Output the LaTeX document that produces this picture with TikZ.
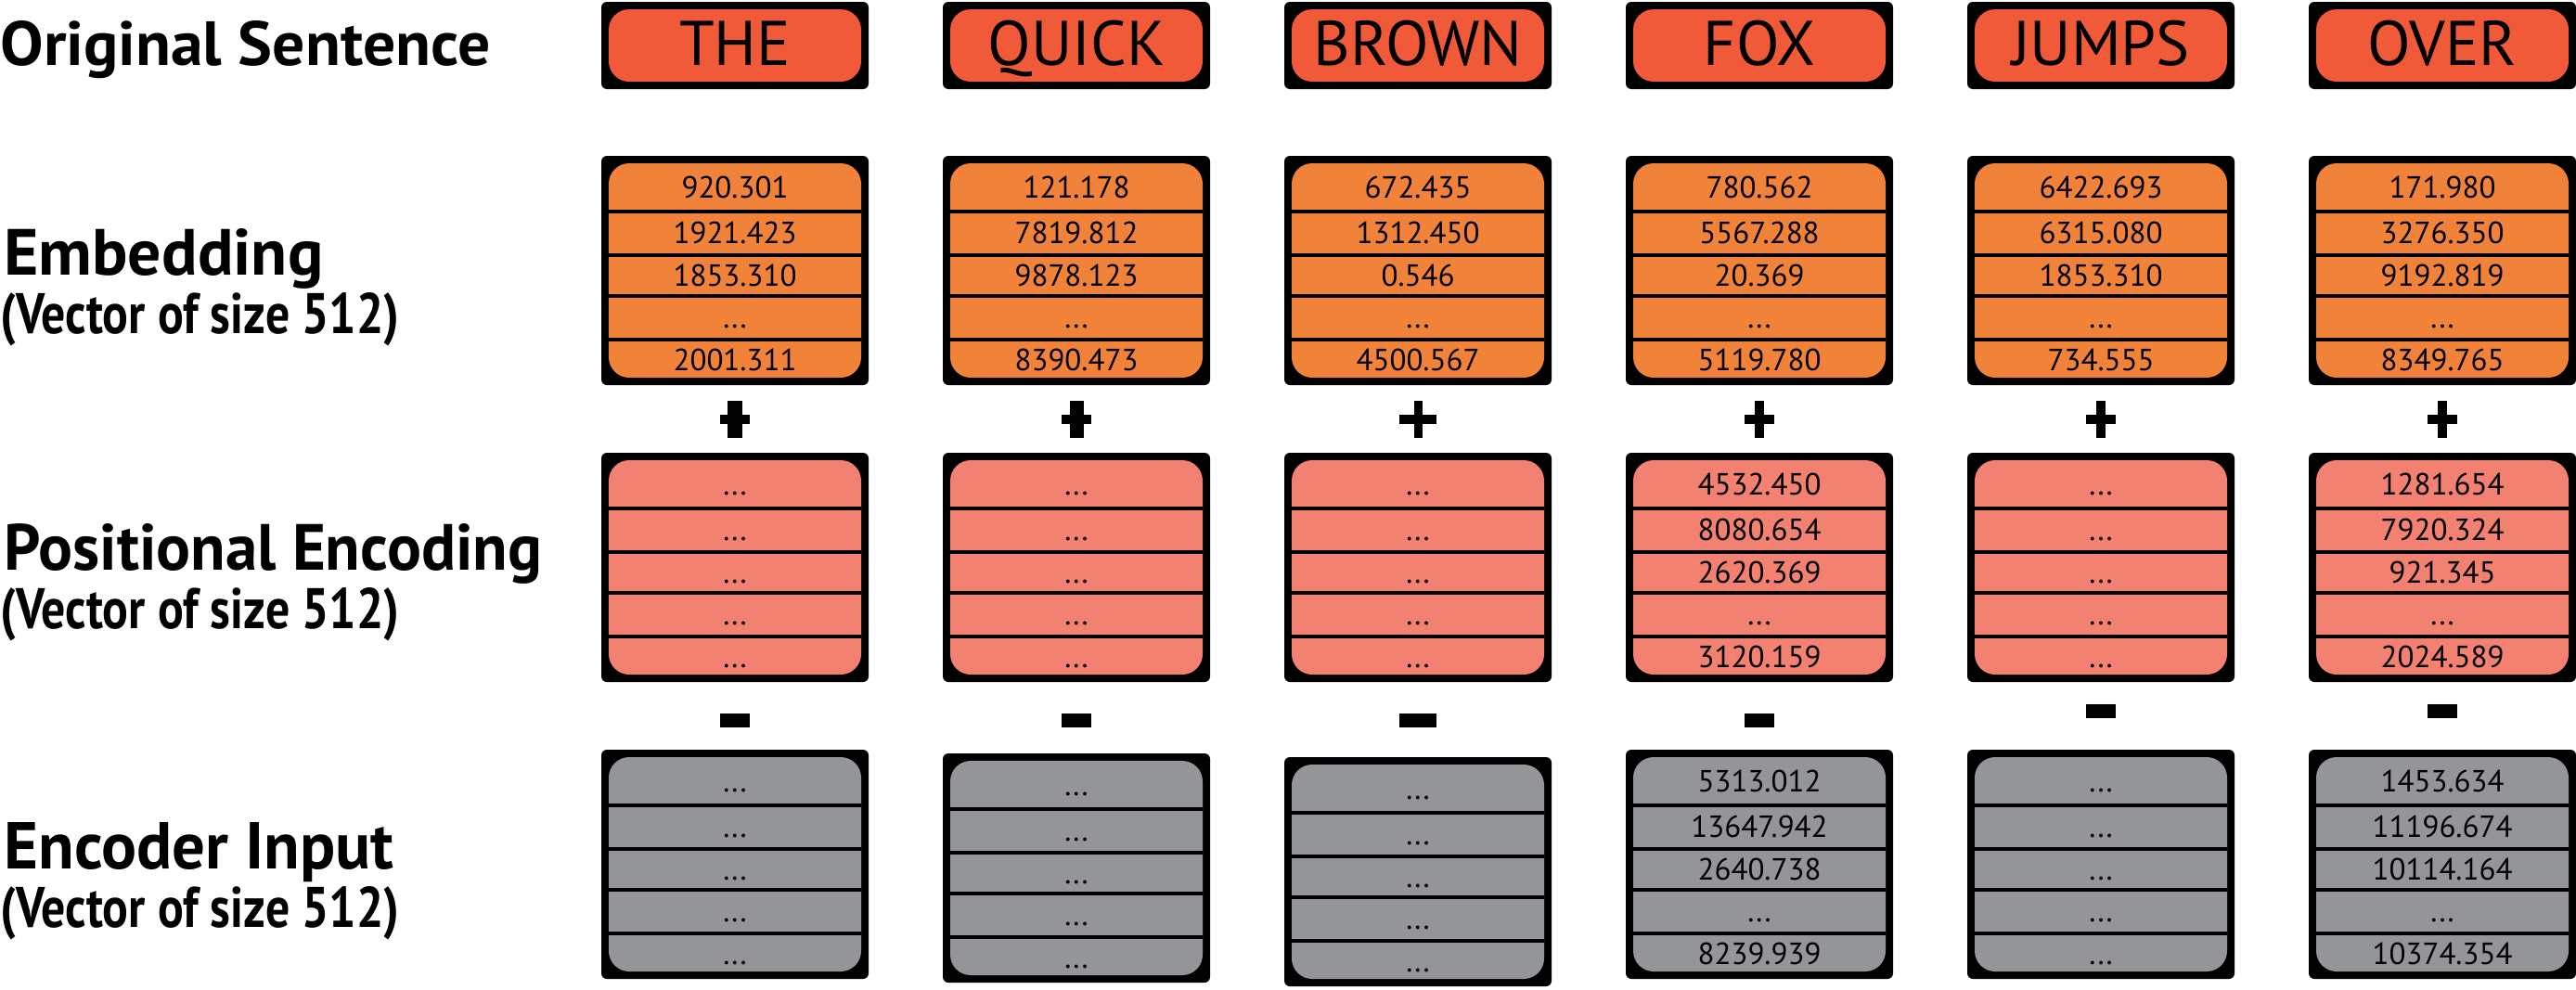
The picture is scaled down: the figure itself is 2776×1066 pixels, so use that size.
\documentclass[tikz,border=0pt]{standalone}
\usepackage{fontspec}
\setmainfont{PT Sans}
\usepackage{graphicx}
\definecolor{wordc}{RGB}{241,90,57}
\definecolor{embc}{RGB}{241,130,58}
\definecolor{posc}{RGB}{242,129,113}
\definecolor{encc}{RGB}{147,149,152}
\newcommand\dd{...}
\tikzset{
  outerbox/.style={fill=black, rounded corners=3pt, minimum width=144pt, minimum height=123.5pt, inner sep=0pt, outer sep=0pt},
  innerbox/.style={rounded corners=11pt, minimum width=136pt, minimum height=115.5pt, inner sep=0pt, outer sep=0pt},
  sepline/.style={line width=2pt, black},
  cell/.style={anchor=base, inner sep=0pt, font=\fontsize{16.5}{18}\selectfont},
  wordtxt/.style={anchor=base, inner sep=0pt, font=\fontsize{34}{40}\selectfont},
  lbl/.style={anchor=base west, inner sep=0pt},
  sign/.style={fill=black, inner sep=0pt, outer sep=0pt},
}
% vector box: id, centre x, top y, colour, five entries
\newcommand\mkvec[5]{%
  \node[outerbox] (#1) at (#2,#3+123.5) {};
  \node[innerbox, fill=#4] (#1in) at (#2,#3+123.5) {};
  \foreach \o in {60,107,151,198}
    \draw[sepline] (#2-136,#3+\o) -- (#2+136,#3+\o);
  \foreach \t [count=\k] in {#5} {
    \pgfmathsetmacro\yo{{45,94,140,185,231}[\k-1]}
    \node[cell] (#1t\k) at (#2,#3+\yo) {\t};
  }%
}
% word box: id, centre x, word
\newcommand\mkword[3]{%
  \node[outerbox, minimum height=47pt] (#1) at (#2,49) {};
  \node[innerbox, minimum height=39pt, fill=wordc] (#1in) at (#2,49) {};
  \node[wordtxt] (#1t) at (#2,70) {#3};
}
% plus: id, centre x, stem width, arm width
\newcommand\mkplus[4]{%
  \node[sign, minimum width=#3*0.5pt, minimum height=20pt] (#1v) at (#2,452) {};
  \node[sign, minimum width=#4*0.5pt, minimum height=5pt] (#1h) at (#2,452) {};
}
% minus: id, centre x, centre y, width
\newcommand\mkminus[4]{%
  \node[sign, minimum width=#4*0.5pt, minimum height=7.5pt] (#1) at (#2,#3) {};
}
\begin{document}
\begin{tikzpicture}[x=0.5pt, y=-0.5pt]
\fill[white] (0,0) rectangle (2776,1066);
\useasboundingbox (0,0) rectangle (2776,1066);

% left labels
\node[lbl] (lorig) at (0,70) {\resizebox{264pt}{24pt}{\bfseries Original Sentence}};
\node[lbl] (lemb) at (4,296) {\resizebox{172pt}{25pt}{\bfseries Embedding}};
\node[lbl] (lembs) at (0,359) {\resizebox{215pt}{22pt}{\bfseries (Vector of size 512)}};
\node[lbl] (lpos) at (4,614) {\resizebox{290pt}{25pt}{\bfseries Positional Encoding}};
\node[lbl] (lposs) at (0,677) {\resizebox{215pt}{22pt}{\bfseries (Vector of size 512)}};
\node[lbl] (lenc) at (4,936) {\resizebox{210pt}{25pt}{\bfseries Encoder Input}};
\node[lbl] (lencs) at (0,999) {\resizebox{215pt}{22pt}{\bfseries (Vector of size 512)}};

% THE
\mkword{wa}{792}{THE}
\mkvec{ea}{792}{168}{embc}{920.301,1921.423,1853.310,\dd,2001.311}
\mkplus{pa}{792}{16}{32}
\mkvec{qa}{792}{488}{posc}{\dd,\dd,\dd,\dd,\dd}
\mkminus{ma}{792}{776}{32}
\mkvec{na}{792}{808}{encc}{\dd,\dd,\dd,\dd,\dd}

% QUICK
\mkword{wb}{1160}{QUICK}
\mkvec{eb}{1160}{168}{embc}{121.178,7819.812,9878.123,\dd,8390.473}
\mkplus{pb}{1160}{15}{32}
\mkvec{qb}{1160}{488}{posc}{\dd,\dd,\dd,\dd,\dd}
\mkminus{mb}{1160}{776}{32}
\mkvec{nb}{1160}{812}{encc}{\dd,\dd,\dd,\dd,\dd}

% BROWN
\mkword{wc}{1528}{BROWN}
\mkvec{ec}{1528}{168}{embc}{672.435,1312.450,0.546,\dd,4500.567}
\mkplus{pc}{1528}{9}{40}
\mkvec{qc}{1528}{488}{posc}{\dd,\dd,\dd,\dd,\dd}
\mkminus{mc}{1528}{776}{40}
\mkvec{nc}{1528}{816}{encc}{\dd,\dd,\dd,\dd,\dd}

% FOX
\mkword{wd}{1896}{FOX}
\mkvec{ed}{1896}{168}{embc}{780.562,5567.288,20.369,\dd,5119.780}
\mkplus{pd}{1896}{10}{32}
\mkvec{qd}{1896}{488}{posc}{4532.450,8080.654,2620.369,\dd,3120.159}
\mkminus{md}{1896}{776}{32}
\mkvec{nd}{1896}{808}{encc}{5313.012,13647.942,2640.738,\dd,8239.939}

% JUMPS
\mkword{we}{2264}{JUMPS}
\mkvec{ee}{2264}{168}{embc}{6422.693,6315.080,1853.310,\dd,734.555}
\mkplus{pe}{2264}{10}{32}
\mkvec{qe}{2264}{488}{posc}{\dd,\dd,\dd,\dd,\dd}
\mkminus{me}{2264}{766}{32}
\mkvec{ne}{2264}{808}{encc}{\dd,\dd,\dd,\dd,\dd}

% OVER
\mkword{wf}{2632}{OVER}
\mkvec{ef}{2632}{168}{embc}{171.980,3276.350,9192.819,\dd,8349.765}
\mkplus{pf}{2632}{10}{32}
\mkvec{qf}{2632}{488}{posc}{1281.654,7920.324,921.345,\dd,2024.589}
\mkminus{mf}{2632}{766}{32}
\mkvec{nf}{2632}{808}{encc}{1453.634,11196.674,10114.164,\dd,10374.354}
\end{tikzpicture}
\end{document}
